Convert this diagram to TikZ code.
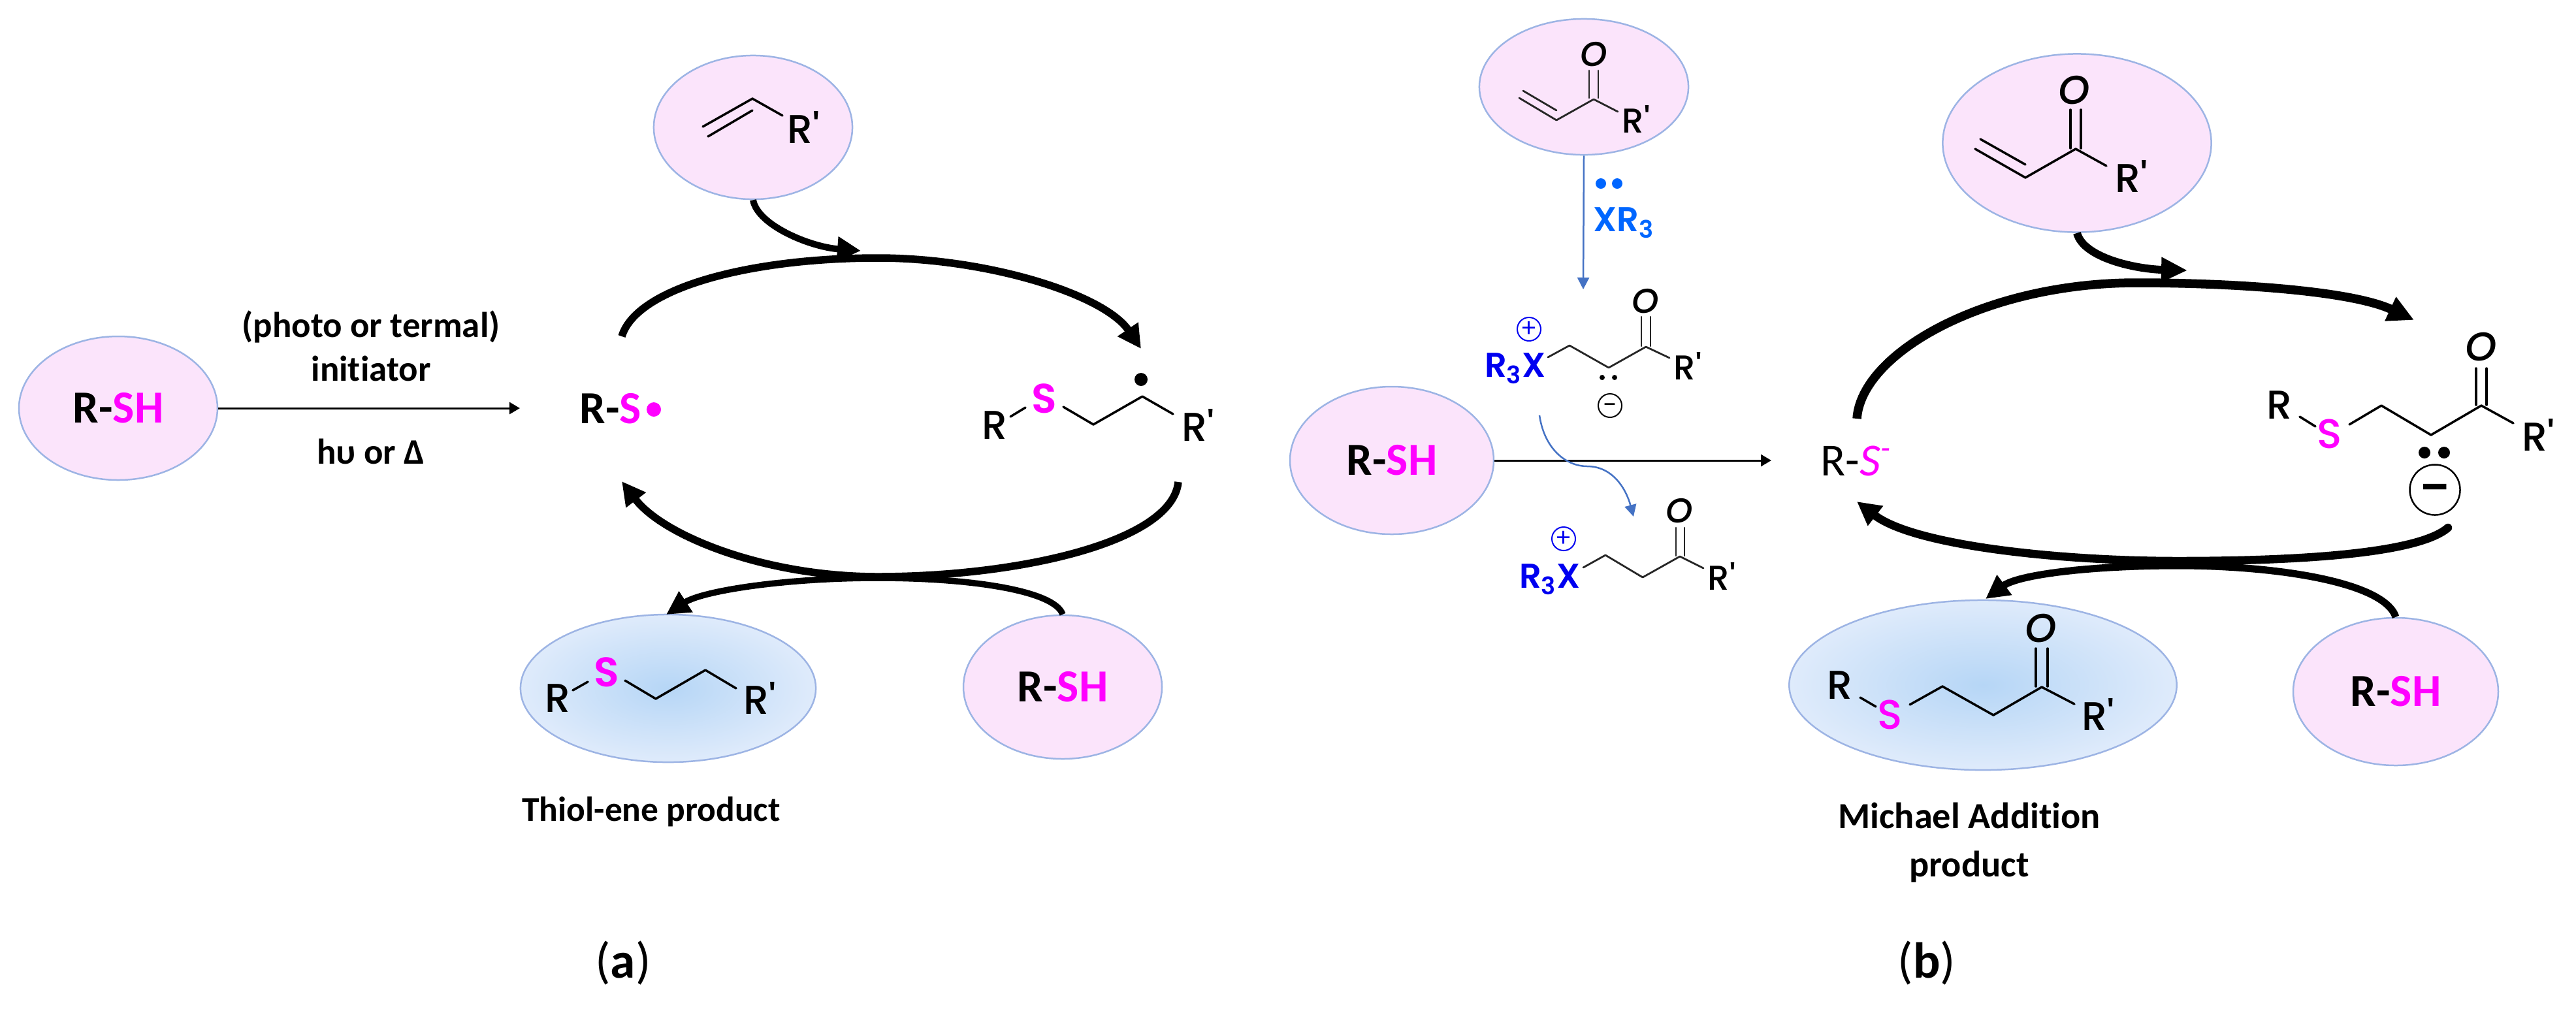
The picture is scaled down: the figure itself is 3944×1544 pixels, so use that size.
\documentclass[tikz,border=0pt]{standalone}
\usepackage{fontspec}
\setmainfont[Ligatures=CommonOff]{Carlito}
\newfontfamily\chemfont[BoldFont={Poppins SemiBold}]{Poppins Medium}
\usetikzlibrary{arrows.meta,shapes.geometric}
\definecolor{pinkfill}{HTML}{FBE4FB}
\definecolor{ellline}{HTML}{9DB4E4}
\definecolor{prodin}{HTML}{B6D6F6}
\definecolor{prodout}{HTML}{DFEBFB}
\definecolor{sulfur}{HTML}{FF00FF}
\definecolor{xblue}{HTML}{0000F0}
\definecolor{xrblue}{HTML}{0066FF}
\definecolor{stepblue}{HTML}{4472C4}
\newcommand{\rsh}{R-\textcolor{sulfur}{SH}}
\begin{document}
\begin{tikzpicture}[x=0.01cm,y=-0.01cm]
		\useasboundingbox (0,0) rectangle (3944,1544);
		\tikzstyle{reagent}=[ellipse,draw=ellline,line width=0.025cm,fill=pinkfill,inner sep=0pt,font=\fontsize{20}{24}\selectfont\bfseries]
		\tikzstyle{product}=[ellipse,draw=ellline,line width=0.025cm,inner color=prodin,outer color=prodout,inner sep=0pt]
		\tikzstyle{chem}=[inner sep=0pt,font=\chemfont\fontsize{17.5}{20}\selectfont]
		\tikzstyle{chemsmall}=[inner sep=0pt,font=\chemfont\fontsize{15}{18}\selectfont]
		\tikzstyle{sulf}=[inner sep=0pt,text=sulfur,font=\chemfont\fontsize{18}{20}\selectfont\bfseries]
		\tikzstyle{label}=[inner sep=0pt,font=\fontsize{15.6}{18}\selectfont\bfseries,align=center]
		\tikzstyle{panel}=[inner sep=0pt,font=\fontsize{22}{26}\selectfont]
		\tikzstyle{bond}=[line width=0.035cm,line cap=round,line join=round]
		\tikzstyle{bondsmall}=[line width=0.028cm,line cap=round,line join=round,black!85]
		\tikzstyle{thin}=[line width=0.03cm,-{Triangle[length=0.16cm,width=0.18cm]}]
		\tikzstyle{bluestep}=[line width=0.025cm,stepblue,-{Triangle[length=0.18cm,width=0.18cm]}]
		\tikzstyle{cycle}=[line width=0.115cm,-{Triangle[length=0.36cm,width=0.36cm]}]
		
		% reagents
		\foreach \n/\x/\y/\w/\h in {a1/181/625/304/220,a2/1627/1052/304/220,b1/2131/705/312/226,b2/3668/1059/314/226}
		\node[reagent,minimum width=\w*0.01cm,minimum height=\h*0.01cm](rsh-\n) at (\x,\y){\rsh};
		
		\node[reagent,minimum width=3.04cm,minimum height=2.2cm](ene-a) at (1153,195){};
		\node[reagent,minimum width=3.2cm,minimum height=2.08cm](acr-s) at (2425,133){};
		\node[reagent,minimum width=4.11cm,minimum height=2.73cm](acr-b) at (3180,219){};
		\node[product,minimum width=4.52cm,minimum height=2.26cm](prod-a) at (1023,1054){};
		\node[product,minimum width=5.93cm,minimum height=2.6cm](prod-b) at (3036,1049){};
		
		% texts of panel a
		\node[label](photo) at (568,500){(photo or termal)};
		\node[label](init) at (568,564){initiator};
		\node[label](hv) at (568,691){h\textup{υ} or Δ};
		\node[inner sep=0pt,anchor=west,font=\fontsize{20}{24}\selectfont\bfseries](rs-a) at (887,626){R-\textcolor{sulfur}{S}};
		\fill[sulfur] (1001,627) circle (11);
		\node[label,font=\fontsize{15.2}{18}\selectfont\bfseries](thiol) at (997,1243){Thiol-ene product};
		\node[panel](panel-a) at (954,1475){(\textbf{a})};
		
		% vinyl R'
		\draw[bond] (1076,194) -- (1152,151) -- (1198,177);
		\draw[bond] (1084,209) -- (1152,169);
		\node[chem](ene-r) at (1230,195){R'};
		
		% radical
		\node[chem](rad-r) at (1523,651){R};
		\node[sulf](rad-s) at (1599,610){S};
		\node[chem](rad-rp) at (1834,651){R'};
		\draw[bond] (1547,638) -- (1570,624);
		\draw[bond] (1628,623) -- (1674,650) -- (1749,607) -- (1796,634);
		\fill (1747,581) circle (10);
		
		% thiol-ene product
		\node[chem](pa-r) at (854,1069){R};
		\node[sulf](pa-s) at (929,1029){S};
		\node[chem](pa-rp) at (1163,1069){R'};
		\draw[bond] (877,1057) -- (900,1044);
		\draw[bond] (957,1042) -- (1004,1070) -- (1080,1026) -- (1127,1054);
		
		% cycle a
		\coordinate (a-in) at (796,625);
		\coordinate (a-up) at (952,515);
		\coordinate (a-top) at (1344,395);
		\coordinate (a-uptip) at (1747,534);
		\coordinate (a-dn) at (1804,738);
		\coordinate (a-low) at (1344,883);
		\coordinate (a-dntip) at (952,737);
		\coordinate (a-enetip) at (1318,384);
		\coordinate (a-prodtip) at (1020,941);
		
		\path[thin] (rsh-a1.east) edge (a-in);
		\draw[cycle] (a-up) .. controls (975,440) and (1150,395) .. (a-top) .. controls (1510,395) and (1690,450) .. (a-uptip);
		\draw[cycle,line width=0.1cm] (ene-a.south) .. controls (1160,345) and (1240,378) .. (a-enetip);
		\draw[cycle] (a-dn) .. controls (1795,830) and (1560,883) .. (a-low) .. controls (1170,883) and (1015,820) .. (a-dntip);
		\draw[cycle,line width=0.095cm] (rsh-a2.north) .. controls (1615,905) and (1490,885) .. (1344,885) .. controls (1200,885) and (1075,905) .. (a-prodtip);
		
		% small acrylate
		\draw[bondsmall] (2326,150) -- (2383,184) -- (2440,152) -- (2477,171);
		\draw[bondsmall] (2332,139) -- (2383,169);
		\draw[bondsmall] (2433,108) -- (2433,150);
		\draw[bondsmall] (2447,108) -- (2447,150);
		\node[chemsmall](as-o) at (2440,83){\itshape O};
		\node[chemsmall](as-r) at (2505,182){R'};
		
		% phosphine
		\foreach \x in {2451,2476}
		\fill[xrblue] (\x,281) circle (8);
		\node[inner sep=0pt,text=xrblue,font=\chemfont\fontsize{15}{18}\selectfont\bfseries](xr3) at (2486,341){XR\textsubscript{3}};
		
		% zwitterion
		\node[chemsmall,text=xblue,font=\chemfont\fontsize{15}{18}\selectfont\bfseries](zw-x) at (2320,564){R\textsubscript{3}X};
		\node[circle,draw=xblue,line width=0.02cm,minimum size=0.36cm,inner sep=0pt,text=xblue,font=\fontsize{12}{12}\selectfont](zw-p) at (2341,504){+};
		\draw[bondsmall] (2370,547) -- (2403,529) -- (2463,563) -- (2520,531) -- (2556,548);
		\draw[bondsmall] (2513,485) -- (2513,530);
		\draw[bondsmall] (2527,485) -- (2527,530);
		\node[chemsmall](zw-o) at (2519,461){\itshape O};
		\node[chemsmall](zw-r) at (2584,560){R'};
		\foreach \x in {2453,2472}
		\fill (\x,578) circle (4);
		\node[circle,draw,line width=0.02cm,minimum size=0.36cm,inner sep=0pt,font=\fontsize{12}{12}\selectfont](zw-m) at (2465,621){\smash{\raisebox{-3.2pt}{−}}};
		
		% phosphonium
		\node[chemsmall,text=xblue,font=\chemfont\fontsize{15}{18}\selectfont\bfseries](ph-x) at (2373,887){R\textsubscript{3}X};
		\node[circle,draw=xblue,line width=0.02cm,minimum size=0.36cm,inner sep=0pt,text=xblue,font=\fontsize{12}{12}\selectfont](ph-p) at (2394,825){+};
		\draw[bondsmall] (2424,869) -- (2458,850) -- (2515,884) -- (2572,852) -- (2608,870);
		\draw[bondsmall] (2566,808) -- (2566,851);
		\draw[bondsmall] (2579,808) -- (2579,851);
		\node[chemsmall](ph-o) at (2571,782){\itshape O};
		\node[chemsmall](ph-r) at (2636,882){R'};
		
		% large acrylate
		\draw[bond] (3024,228) -- (3101,272) -- (3178,228) -- (3225,254);
		\draw[bond] (3032,213) -- (3101,252);
		\draw[bond] (3170,168) -- (3170,227);
		\draw[bond] (3186,168) -- (3186,227);
		\node[chem](ab-o) at (3176,138){\itshape O};
		\node[chem](ab-r) at (3263,270){R'};
		
		% enolate
		\node[chem](en-r) at (3490,620){R};
		\node[sulf,font=\chemfont\fontsize{18}{20}\selectfont](en-s) at (3567,664){S};
		\draw[bond] (3521,638) -- (3545,653);
		\draw[bond] (3597,650) -- (3646,621) -- (3722,666) -- (3799,621) -- (3848,648);
		\draw[bond] (3791,564) -- (3791,620);
		\draw[bond] (3807,564) -- (3807,620);
		\node[chem](en-o) at (3799,531){\itshape O};
		\node[chem](en-rp) at (3886,666){R'};
		\foreach \x in {3712,3742}
		\fill (\x,693) circle (9);
		\node[circle,draw,line width=0.025cm,minimum size=0.77cm,inner sep=0pt,font=\fontsize{26}{26}\selectfont\bfseries](en-m) at (3728,750){\smash{\raisebox{-7pt}{−}}};
		
		% michael product
		\node[chem](pb-r) at (2817,1049){R};
		\node[sulf,font=\chemfont\fontsize{18}{20}\selectfont](pb-s) at (2894,1094){S};
		\draw[bond] (2848,1068) -- (2872,1082);
		\draw[bond] (2924,1079) -- (2974,1051) -- (3052,1095) -- (3126,1052) -- (3176,1078);
		\draw[bond] (3117,993) -- (3117,1051);
		\draw[bond] (3135,993) -- (3135,1051);
		\node[chem](pb-o) at (3125,962){\itshape O};
		\node[chem](pb-rp) at (3212,1094){R'};
		
		% texts of panel b
		\node[inner sep=0pt,anchor=west,font=\fontsize{20}{24}\selectfont](rs-b) at (2787,706){R-\textcolor{sulfur}{\itshape S\textsuperscript{-}}};
		\node[label,font=\fontsize{16}{18}\selectfont\bfseries](michael) at (3015,1290){Michael Addition\\[3pt]product};
		\node[panel](panel-b) at (2950,1475){(\textbf{b})};
		
		% cycle b
		\coordinate (b-in) at (2712,705);
		\coordinate (b-zwtip) at (2424,443);
		\coordinate (b-wave) at (2357,636);
		\coordinate (b-wavemid) at (2430,714);
		\coordinate (b-wavetip) at (2501,791);
		\coordinate (b-up) at (2843,641);
		\coordinate (b-top) at (3271,433);
		\coordinate (b-uptip) at (3696,490);
		\coordinate (b-acrtip) at (3349,414);
		\coordinate (b-dn) at (3748,808);
		\coordinate (b-low) at (3335,859);
		\coordinate (b-dntip) at (2843,768);
		\coordinate (b-prodtip) at (3040,917);
		
		\path[thin] (rsh-b1.east) edge (b-in);
		\path[bluestep] (acr-s.south) edge (b-zwtip);
		\draw[bluestep] (b-wave) .. controls (2365,690) and (2400,714) .. (b-wavemid) .. controls (2470,714) and (2490,750) .. (b-wavetip);
		\draw[cycle,line width=0.135cm,-{Triangle[length=0.4cm,width=0.38cm]}] (b-up) .. controls (2850,540) and (3040,433) .. (b-top) .. controls (3420,433) and (3600,445) .. (b-uptip);
		\draw[cycle,line width=0.12cm,-{Triangle[length=0.4cm,width=0.36cm]}] (acr-b.south) .. controls (3190,395) and (3270,412) .. (b-acrtip);
		\draw[cycle,line width=0.125cm,line cap=round] (b-dn) .. controls (3700,850) and (3500,859) .. (b-low) .. controls (3150,859) and (2930,835) .. (b-dntip);
		\draw[cycle,line width=0.11cm] (rsh-b2.north) .. controls (3650,890) and (3480,866) .. (3335,866) .. controls (3200,866) and (3090,880) .. (b-prodtip);
		\end{tikzpicture}
\end{document}
